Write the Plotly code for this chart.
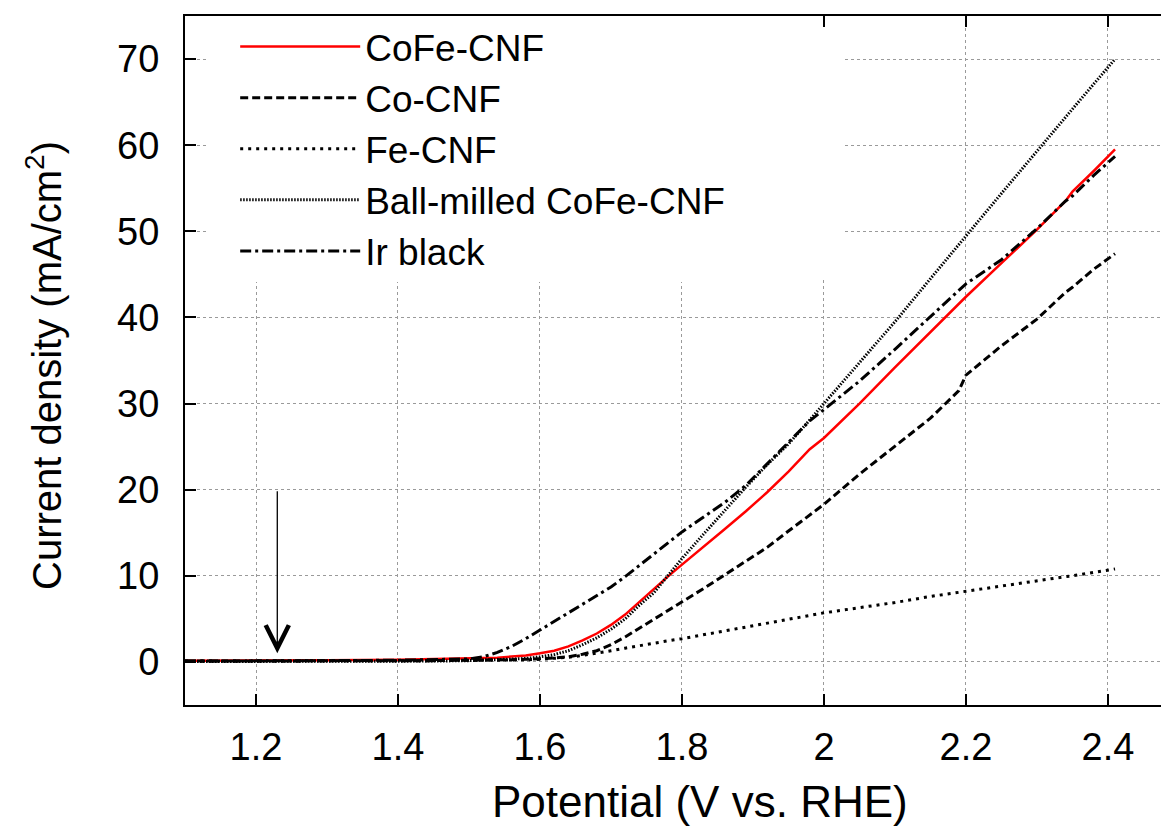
import plotly.graph_objects as go

# ---------------- data ----------------
potential = [1.10, 1.20, 1.30, 1.40, 1.45, 1.50, 1.52, 1.54, 1.56, 1.58,
             1.60, 1.62, 1.64, 1.66, 1.68, 1.70, 1.72, 1.74, 1.76, 1.78,
             1.80, 1.83, 1.86, 1.89, 1.92, 1.95, 1.98, 2.00, 2.05, 2.10,
             2.15, 2.19, 2.20, 2.25, 2.30, 2.34, 2.35, 2.38, 2.41]

cofe_cnf = [0.15, 0.15, 0.2, 0.25, 0.3, 0.4, 0.45, 0.5, 0.6, 0.75,
            1.0, 1.3, 1.8, 2.5, 3.3, 4.3, 5.5, 7.0, 8.5, 9.9,
            11.3, 13.3, 15.4, 17.5, 19.7, 22.1, 24.7, 26.0, 30.0, 34.2,
            38.3, 41.6, 42.4, 46.3, 50.2, 53.5, 54.6, 57.0, 59.5]

co_cnf = [0.1, 0.1, 0.1, 0.15, 0.15, 0.2, 0.2, 0.25, 0.25, 0.3,
          0.35, 0.45, 0.6, 0.9, 1.3, 2.0, 2.9, 3.9, 4.9, 5.9,
          6.9, 8.5, 10.1, 11.7, 13.3, 15.2, 17.1, 18.3, 21.8, 25.0,
          28.3, 31.5, 33.3, 36.7, 39.8, 42.9, 43.5, 45.6, 47.4]

fe_cnf = [0.1, 0.1, 0.1, 0.15, 0.15, 0.2, 0.2, 0.2, 0.25, 0.25,
          0.3, 0.4, 0.55, 0.75, 1.0, 1.3, 1.6, 1.9, 2.2, 2.45,
          2.7, 3.15, 3.6, 4.1, 4.55, 5.0, 5.4, 5.7, 6.3, 6.9,
          7.6, 8.1, 8.2, 8.8, 9.4, 9.9, 10.0, 10.4, 10.8]

ball_milled = [0.05, 0.05, 0.05, 0.1, 0.1, 0.15, 0.2, 0.25, 0.3, 0.4,
               0.6, 0.85, 1.3, 2.0, 2.8, 3.8, 5.0, 6.6, 8.0, 10.0,
               12.0, 14.8, 17.6, 20.3, 22.9, 25.3, 28.1, 30.0, 34.8, 39.5,
               44.5, 48.5, 49.5, 54.4, 59.3, 63.3, 64.2, 67.1, 70.0]

ir_black = [0.1, 0.1, 0.15, 0.2, 0.25, 0.35, 0.6, 1.1, 1.8, 2.7,
            3.7, 4.7, 5.7, 6.7, 7.7, 8.7, 9.9, 11.2, 12.5, 13.8,
            15.1, 16.8, 18.5, 20.5, 23.0, 25.6, 28.0, 29.3, 32.6, 36.3,
            40.1, 43.2, 43.9, 46.7, 50.3, 53.5, 54.1, 56.5, 58.7]

series_names = ["CoFe-CNF", "Co-CNF", "Fe-CNF", "Ball-milled CoFe-CNF", "Ir black"]
series_values = [cofe_cnf, co_cnf, fe_cnf, ball_milled, ir_black]

x_tick_vals = [1.2, 1.4, 1.6, 1.8, 2.0, 2.2, 2.4]
x_tick_text = ["1.2", "1.4", "1.6", "1.8", "2", "2.2", "2.4"]
y_tick_vals = [0, 10, 20, 30, 40, 50, 60, 70]
y_tick_text = ["0", "10", "20", "30", "40", "50", "60", "70"]

x_title = "Potential (V vs. RHE)"
y_title = "Current density (mA/cm<sup>2</sup>)"

# reversible potential marker (arrow)
e_rev = 1.23
arrow_top = 20.0
arrow_tip = 1.0

# ---------------- styles ----------------
FONT = "Liberation Sans, Arial, Helvetica, sans-serif"
line_styles = [
    dict(color="#ff0000", width=2.5, dash="solid"),
    dict(color="black", width=3, dash="8px,4px"),
    dict(color="black", width=3, dash="3px,5px"),
    dict(color="black", width=3, dash="1.5px,1.5px"),
    dict(color="black", width=3, dash="11px,4px,3px,4px"),
]

fig = go.Figure()
for name, vals, st in zip(series_names, series_values, line_styles):
    fig.add_trace(go.Scatter(x=potential, y=vals, mode="lines", name=name,
                             line=st))

axis_common = dict(
    ticks="inside", ticklen=11, tickwidth=2, tickcolor="black",
    showline=True, linewidth=2, linecolor="black",
    showgrid=True, gridcolor="#9a9a9a", griddash="dot", gridwidth=1,
    zeroline=False, tickfont=dict(family=FONT, size=38, color="black"),
)

# the page adds an 8px body margin, so the figure is shifted by 8px
fig.update_layout(
    width=1161, height=824,
    margin=dict(l=177, r=0, t=8, b=127),
    plot_bgcolor="white", paper_bgcolor="white",
    font=dict(family=FONT, color="black"),
    xaxis=dict(range=[1.1, 2.486], tickvals=x_tick_vals, ticktext=x_tick_text,
               mirror="ticks", ticklabelstandoff=7, **axis_common),
    yaxis=dict(range=[-5, 75], tickvals=y_tick_vals, ticktext=y_tick_text,
               ticklabelstandoff=16, **axis_common),
    legend=dict(x=0.051, y=1.0, xanchor="left", yanchor="top",
                bgcolor="white", borderwidth=0, itemwidth=120,
                font=dict(family=FONT, size=37, color="black"),
                tracegroupgap=0),
    showlegend=True,
)

# opaque key area (gnuplot-style key box without border) hiding the grid;
# kept just below the top-axis tick marks so they stay visible
fig.add_shape(type="rect", xref="paper", yref="paper",
              x0=(207 - 185) / 984, x1=(845 - 185) / 984,
              y0=(705 - 278) / 689, y1=(705 - 28) / 689,
              fillcolor="white", line=dict(width=0), layer="above")

fig.add_annotation(x=e_rev, y=arrow_tip, ax=e_rev, ay=arrow_top,
                   xref="x", yref="y", axref="x", ayref="y",
                   showarrow=True, arrowhead=5, arrowsize=3.5, arrowwidth=1.3,
                   arrowcolor="black", text="")

fig.add_annotation(text=x_title, xref="paper", yref="paper",
                   x=(700 - 185) / 984, y=(705 - 801) / 689,
                   xanchor="center", yanchor="middle", showarrow=False,
                   font=dict(family=FONT, size=44, color="black"))
fig.add_annotation(text=y_title, xref="paper", yref="paper",
                   x=(44 - 185) / 984, y=(705 - 366) / 689,
                   xanchor="center", yanchor="middle", showarrow=False,
                   textangle=-90,
                   font=dict(family=FONT, size=40, color="black"))

fig.write_html("out.html")
